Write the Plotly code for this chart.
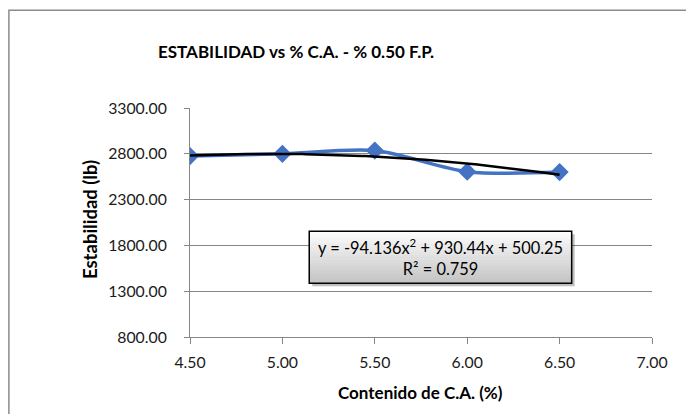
import numpy as np
import plotly.graph_objects as go

# ---- data ----
contenido_ca = [4.50, 5.00, 5.50, 6.00, 6.50]
estabilidad = [2775, 2800, 2835, 2605, 2600]
trend_coef = [-94.136, 930.44, 500.25]   # a x^2 + b x + c (from chart label)
r2_value = 0.759
x_ticks = [4.5, 5.0, 5.5, 6.0, 6.5, 7.0]
y_ticks = [800, 1300, 1800, 2300, 2800, 3300]

W, H = 686, 414
L, R, T, B = 189.5, 652.5, 107.7, 336.7

FONT = "Lato"
GRID = "#868686"

fig = go.Figure()

# smoothed data series
fig.add_trace(go.Scatter(
    x=contenido_ca, y=estabilidad, mode="lines+markers",
    line=dict(color="#4472C4", width=3.5, shape="spline", smoothing=0.8),
    marker=dict(symbol="diamond", size=14, color="#4472C4"),
    showlegend=False, hoverinfo="x+y"))

# polynomial trendline
xt = np.linspace(min(contenido_ca), max(contenido_ca), 100)
yt = np.polyval(trend_coef, xt)
fig.add_trace(go.Scatter(
    x=xt, y=yt, mode="lines",
    line=dict(color="black", width=2.5),
    showlegend=False, hoverinfo="skip"))

def px(x):
    return (x - L) / (R - L)

def py(y):
    return (B - y) / (B - T)

shapes = []
# chart outer border
shapes.append(dict(type="rect", xref="paper", yref="paper",
                   x0=px(8), x1=px(700), y0=py(10), y1=py(430),
                   line=dict(color="#8c8c8c", width=1.5), fillcolor="rgba(0,0,0,0)",
                   layer="below"))
# equation box: shadow + gradient
bx0, bx1, by0, by1 = 309, 572, 231, 283
shapes.append(dict(type="rect", xref="paper", yref="paper",
                   x0=px(bx0 + 3), x1=px(bx1 + 3), y0=py(by0 + 3), y1=py(by1 + 3),
                   line=dict(width=0), fillcolor="rgba(0,0,0,0.25)"))
n = 20
for i in range(n):
    t = i / (n - 1)
    c = int(round(252 - t * (252 - 196)))
    y0 = by0 + (by1 - by0) * i / n
    y1 = by0 + (by1 - by0) * (i + 1) / n
    shapes.append(dict(type="rect", xref="paper", yref="paper",
                       x0=px(bx0), x1=px(bx1), y0=py(y0), y1=py(y1 + 0.5),
                       line=dict(width=0), fillcolor=f"rgb({c},{c},{c})"))
shapes.append(dict(type="rect", xref="paper", yref="paper",
                   x0=px(bx0), x1=px(bx1), y0=py(by0), y1=py(by1),
                   line=dict(color="black", width=1.5), fillcolor="rgba(0,0,0,0)"))

a, b, c0 = trend_coef
eq_text = f"y = {a:g}x<sup>2</sup> + {b:g}x + {c0:g}<br>R² = {r2_value:g}"

annotations = [
    dict(text=eq_text, xref="paper", yref="paper",
         x=px((bx0 + bx1) / 2), y=py((by0 + by1) / 2), showarrow=False,
         xanchor="center", yanchor="middle", align="center",
         font=dict(family=FONT, size=16.4, color="black")),
    dict(text="<b>ESTABILIDAD vs % C.A. - % 0.50 F.P.</b>", xref="paper", yref="paper",
         x=px(296), y=py(51), showarrow=False, xanchor="center", yanchor="middle",
         font=dict(family=FONT, size=17, color="black")),
    dict(text="<b>Contenido de C.A. (%)</b>", xref="paper", yref="paper",
         x=px(420), y=py(392), showarrow=False, xanchor="center", yanchor="middle",
         font=dict(family=FONT, size=17, color="black")),
    dict(text="<b>Estabilidad (lb)</b>", xref="paper", yref="paper",
         x=px(90), y=py(219), showarrow=False, xanchor="center", yanchor="middle",
         textangle=-90, font=dict(family=FONT, size=18.5, color="black")),
]

fig.update_layout(
    width=W, height=H,
    margin=dict(l=L, r=W - R, t=T, b=H - B, pad=0),
    paper_bgcolor="white", plot_bgcolor="white",
    shapes=shapes, annotations=annotations,
    font=dict(family=FONT, size=15.8, color="#1a1a1a"),
    xaxis=dict(range=[4.5, 7.0], tickvals=x_ticks,
               ticktext=[f"{v:.2f}" for v in x_ticks],
               showgrid=False, zeroline=False, showline=True, linecolor=GRID,
               linewidth=1, ticks="outside", ticklen=6, tickcolor=GRID,
               ticklabelstandoff=5, fixedrange=True),
    yaxis=dict(range=[800, 3300], tickvals=y_ticks,
               ticktext=[f"{v:.2f}" for v in y_ticks],
               showgrid=True, gridcolor=GRID, gridwidth=1, zeroline=False,
               showline=True, linecolor=GRID, linewidth=1,
               ticks="outside", ticklen=5, tickcolor=GRID,
               ticklabelstandoff=14, fixedrange=True),
    showlegend=False,
)

fig.write_html("out.html", config={"displayModeBar": False},
               post_script="document.body.style.margin='0';")
